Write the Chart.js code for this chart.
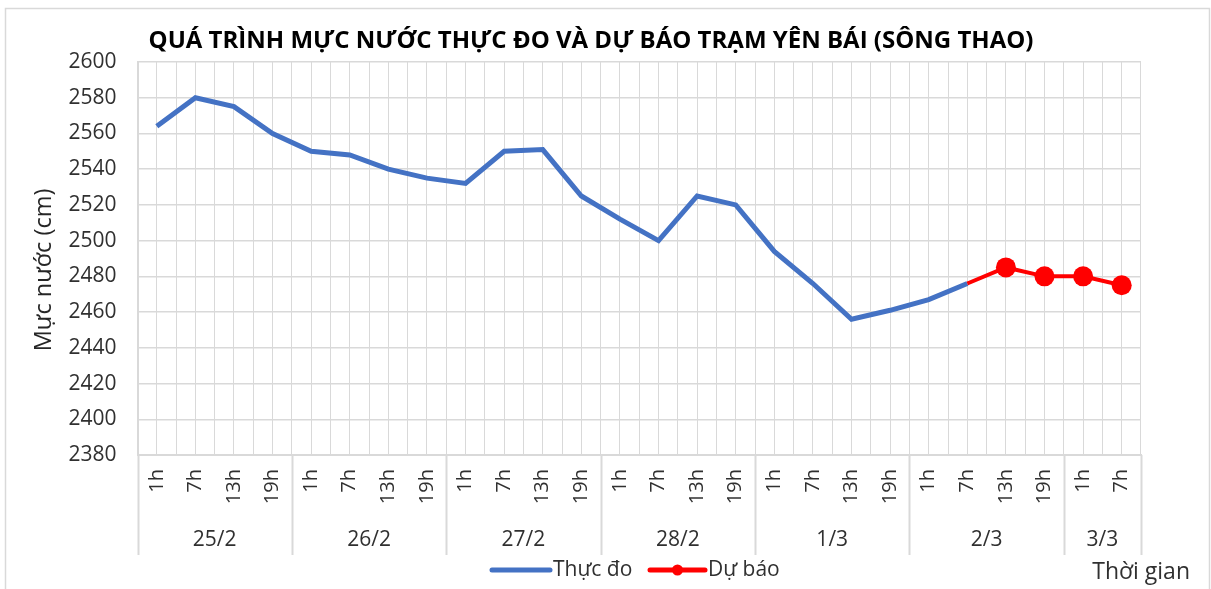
<!DOCTYPE html>
<html>
<head>
<meta charset="utf-8">
<script src="https://cdn.jsdelivr.net/npm/chart.js@4.4.1/dist/chart.umd.min.js"></script>
<style>
  html, body { margin: 0; padding: 0; background: #fff; }
</style>
</head>
<body>
<canvas id="myChart" width="1211" height="589"></canvas>
<script>
// data
const titleText = 'QUÁ TRÌNH MỰC NƯỚC THỰC ĐO VÀ DỰ BÁO TRẠM YÊN BÁI (SÔNG THAO)';
const yTitle = 'Mực nước (cm)';
const xTitle = 'Thời gian';
const hourLabels = ['1h','7h','13h','19h', '1h','7h','13h','19h', '1h','7h','13h','19h',
                    '1h','7h','13h','19h', '1h','7h','13h','19h', '1h','7h','13h','19h', '1h','7h'];
const dayLabels = ['25/2', '26/2', '27/2', '28/2', '1/3', '2/3', '3/3'];
const hoursPerDay = [4, 4, 4, 4, 4, 4, 2];
const measured = [2564, 2580, 2575, 2560, 2550, 2548, 2540, 2535, 2532, 2550, 2551, 2525,
                  2512, 2500, 2525, 2520, 2494, 2476, 2456, 2461, 2467, 2476, null, null, null, null];
const forecast = [null, null, null, null, null, null, null, null, null, null, null, null,
                  null, null, null, null, null, null, null, null, null, 2476, 2485, 2480, 2480, 2475];
const yTicks = [2380, 2400, 2420, 2440, 2460, 2480, 2500, 2520, 2540, 2560, 2580, 2600];

const FONT = '"Open Sans", "Noto Sans", sans-serif';
const GRID = '#d9d9d9';
const TEXT = '#303030';

const firstForecast = forecast.findIndex(v => v !== null);

// draws the frame, titles, day groups and legend the way excel does
const excelBits = {
  id: 'excelBits',
  beforeDraw(chart) {
    const c = chart.ctx;
    c.save();
    c.fillStyle = '#fff';
    c.fillRect(0, 0, chart.width, chart.height);
    c.restore();
  },
  afterDraw(chart) {
    const c = chart.ctx, area = chart.chartArea;
    c.save();
    c.strokeStyle = GRID;
    c.lineWidth = 1.5;
    c.strokeRect(5.5, 8.5, 1204, 620);

    c.fillStyle = '#000';
    c.font = 'bold 24px ' + FONT;
    c.textAlign = 'center';
    c.textBaseline = 'middle';
    c.fillText(titleText, 591, 41);

    // y axis title
    c.save();
    c.translate(44, 270);
    c.rotate(-Math.PI / 2);
    c.fillStyle = '#262626';
    c.font = '23.5px ' + FONT;
    c.fillText(yTitle, 0, 0);
    c.restore();

    // day groups under the hour labels
    const w = (area.right - area.left) / hourLabels.length;
    let start = 0;
    c.lineWidth = 2;
    c.font = '21px ' + FONT;
    c.fillStyle = TEXT;
    const sep = (i) => {
      const px = Math.round(area.left + i * w) + 0.5;
      c.beginPath(); c.moveTo(px, area.bottom); c.lineTo(px, 555); c.stroke();
    };
    sep(0);
    dayLabels.forEach((d, k) => {
      const end = start + hoursPerDay[k];
      sep(end);
      c.fillText(d, area.left + (start + end) / 2 * w, 540);
      start = end;
    });

    // legend
    const items = [
      { x: 492, len: 58, ds: chart.data.datasets[0], dot: false },
      { x: 650, len: 55, ds: chart.data.datasets[1], dot: true }
    ];
    c.textAlign = 'left';
    items.forEach(it => {
      c.strokeStyle = it.ds.borderColor;
      c.lineWidth = 5;
      c.lineCap = 'round';
      c.beginPath(); c.moveTo(it.x, 570); c.lineTo(it.x + it.len, 570); c.stroke();
      if (it.dot) {
        c.fillStyle = it.ds.borderColor;
        c.beginPath(); c.arc(it.x + it.len / 2, 570, 5.5, 0, Math.PI * 2); c.fill();
      }
      c.fillStyle = TEXT;
      c.fillText(it.ds.label, it.x + it.len + 3, 570);
    });

    c.font = '23px ' + FONT;
    c.textAlign = 'right';
    c.fillText(xTitle, 1190, 572);
    c.restore();
  }
};

const ctx = document.getElementById('myChart').getContext('2d');
new Chart(ctx, {
  type: 'line',
  data: {
    labels: hourLabels,
    datasets: [
      {
        label: 'Thực đo',
        data: measured,
        borderColor: '#4472C4',
        backgroundColor: '#4472C4',
        borderWidth: 5,
        pointRadius: 0,
        tension: 0,
        order: 1
      },
      {
        label: 'Dự báo',
        data: forecast,
        borderColor: '#FF0000',
        backgroundColor: '#FF0000',
        borderWidth: 4,
        pointRadius: (p) => p.dataIndex === firstForecast ? 0 : 10,
        pointBorderWidth: 0,
        tension: 0,
        order: 0
      }
    ]
  },
  options: {
    responsive: false,
    animation: false,
    layout: { padding: { top: 62, right: 70, bottom: 0, left: 0 } },
    plugins: {
      legend: { display: false },
      title: { display: false },
      tooltip: { enabled: false }
    },
    scales: {
      x: {
        offset: true,
        grid: { offset: true, color: GRID, lineWidth: 1, drawTicks: false },
        border: { color: GRID, width: 2 },
        ticks: {
          autoSkip: false, minRotation: 90, maxRotation: 90, padding: 14,
          color: TEXT, font: { family: FONT, size: 20 }
        },
        afterFit: (s) => { s.height = 134; }
      },
      x2: {
        type: 'category',
        labels: hourLabels,
        position: 'bottom',
        offset: true,
        grid: { offset: false, color: GRID, lineWidth: 1, drawTicks: false },
        border: { display: false },
        ticks: { display: false },
        afterFit: (s) => { s.height = 0; }
      },
      y: {
        min: yTicks[0],
        max: yTicks[yTicks.length - 1],
        grid: { color: GRID, lineWidth: 1.5, drawTicks: false },
        border: { color: GRID, width: 2 },
        ticks: {
          stepSize: yTicks[1] - yTicks[0], padding: 21,
          color: TEXT, font: { family: FONT, size: 21 },
          callback: (v) => String(v)
        },
        afterFit: (s) => { s.width = 137.5; }
      }
    }
  },
  plugins: [excelBits]
});
</script>
</body>
</html>
